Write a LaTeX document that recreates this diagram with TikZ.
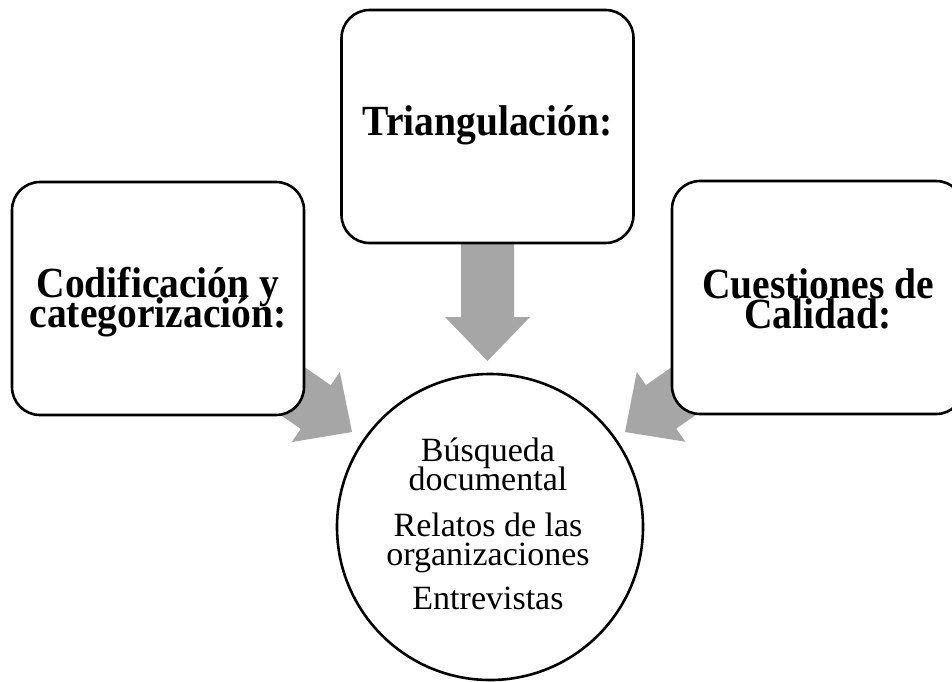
\documentclass[tikz,border=0pt]{standalone}
\usepackage{fontspec}
\setmainfont{Liberation Serif}
\newfontfamily\boxfont[FakeStretch=0.92]{Liberation Serif}
\usetikzlibrary{calc,backgrounds}
\definecolor{arrowgray}{RGB}{166,166,166}
\lineskiplimit-1000pt\relax
\newcommand\mynolsl{\lineskiplimit-1000pt\relax}
\newcommand\blockarr[2]{%
  \path ($(#2)!44pt!(#1)$) coordinate (#1-#2-h);
  \fill[blockarrow]
    ($(#1)!26.5pt!90:(#2)$) -- ($(#1-#2-h)!26.5pt!90:(#2)$) --
    ($(#1-#2-h)!42.5pt!90:(#2)$) -- (#2) --
    ($(#1-#2-h)!42.5pt!-90:(#2)$) -- ($(#1-#2-h)!26.5pt!-90:(#2)$) --
    ($(#1)!26.5pt!-90:(#2)$) -- cycle;}
\begin{document}
\begin{tikzpicture}[x=1pt,y=-1pt,
  box/.style={draw=black, line width=2.6pt, fill=white, rounded corners=28pt,
    minimum width=292pt, minimum height=233pt, inner sep=0pt, outer sep=0pt},
  boxtext/.style={font={\mynolsl\boxfont\fontsize{43}{30}\selectfont\bfseries},
    align=center, inner sep=0pt},
  circtext/.style={font={\mynolsl\fontsize{34}{29}\selectfont},
    align=center, inner sep=0pt},
  ring/.style={circle, draw=black, line width=2.6pt, fill=white,
    minimum size=306pt, inner sep=0pt, outer sep=0pt},
  blockarrow/.style={fill=arrowgray, draw=none}]
\useasboundingbox (0,0) rectangle (952,681);

\node[box] (cod) at (158,298.5) {};
\node[boxtext] (codt) at ([yshift=-3.45pt]cod.center) {Codificación y\\categorización:};
\node[box] (tri) at (487.5,126.5) {};
\node[boxtext] (trit) at ([yshift=1.55pt]tri.center) {Triangulación:};
\node[box] (cue) at (818,297.5) {};
\node[boxtext] (cuet) at ([yshift=-0.9pt]cue.center) {Cuestiones de\\Calidad:};
\node[ring] (circ) at (490,527) {};
\node[circtext] (circt) at (488,523.5)
  {Búsqueda\\documental\\[17pt]Relatos de las\\organizaciones\\[15pt]Entrevistas};

\coordinate (lt) at (352,432);
\coordinate (tt) at (487.5,361);
\coordinate (rt) at (625,432);

\begin{scope}[on background layer]
  \blockarr{cod}{lt}
  \blockarr{tri}{tt}
  \blockarr{cue}{rt}
\end{scope}
\end{tikzpicture}
\end{document}
